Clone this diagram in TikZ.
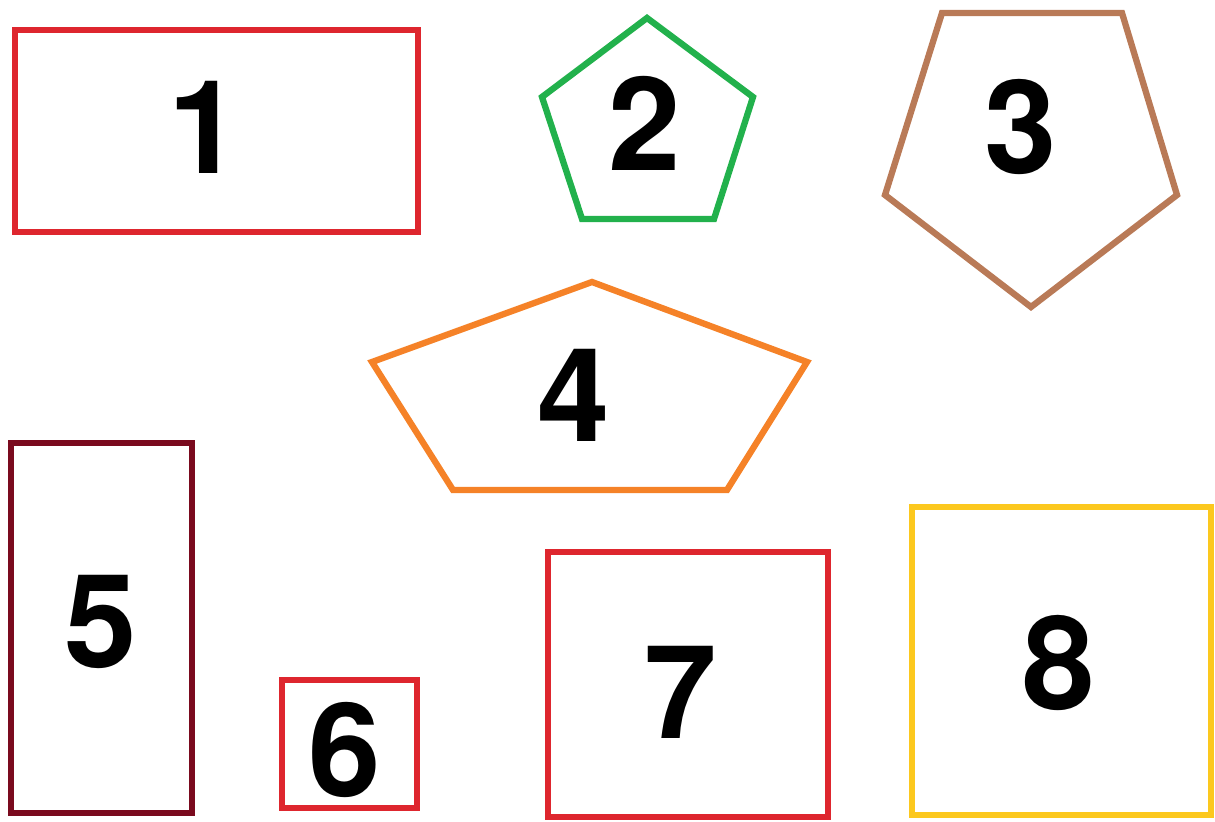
\documentclass[tikz,border=0pt]{standalone}
\usepackage{fontspec}
\setmainfont{TeX Gyre Heros}
\usepackage{tikz}
\definecolor{paintred}{RGB}{222, 38, 46}
\definecolor{paintgreen}{RGB}{34, 177, 76}
\definecolor{paintbrown}{RGB}{185, 122, 87}
\definecolor{paintorange}{RGB}{245, 130, 40}
\definecolor{paintdarkred}{RGB}{122, 10, 30}
\definecolor{paintgold}{RGB}{252, 200, 30}

\begin{document}
\begin{tikzpicture}[
    x=0.01cm, y=-0.01cm,
    outline/.style={draw=#1, line width=1.8pt, line join=miter},
    digit/.style={font=\fontsize{37}{37}\selectfont\bfseries, text=black, inner sep=0pt}
]
\useasboundingbox (0,0) rectangle (1215,822);
% rectangles
\draw[outline=paintred] (15,30) rectangle (418,232);
\draw[outline=paintdarkred] (11,443) rectangle (192,813);
\draw[outline=paintred] (282,680) rectangle (417,808);
\draw[outline=paintred] (548,552) rectangle (828,817);
\draw[outline=paintgold] (912,507) rectangle (1211,815);
% pentagons
\draw[outline=paintgreen] (647,18) -- (753,97) -- (714,219) -- (582,219) -- (542,97) -- cycle;
\draw[outline=paintbrown] (942,13) -- (1122,13) -- (1177,195) -- (1031,307) -- (885,195) -- cycle;
\draw[outline=paintorange] (592,282) -- (807,362) -- (727,490) -- (453,490) -- (372,362) -- cycle;
% numbers
\node[digit] (n1) at (205,127) {1};
\node[digit] (n2) at (645,123) {2};
\node[digit] (n3) at (1021,127) {3};
\node[digit] (n4) at (574,395) {4};
\node[digit] (n5) at (101,622) {5};
\node[digit] (n6) at (345,750) {6};
\node[digit] (n7) at (681,692) {7};
\node[digit] (n8) at (1059,663) {8};
\end{tikzpicture}
\end{document}
